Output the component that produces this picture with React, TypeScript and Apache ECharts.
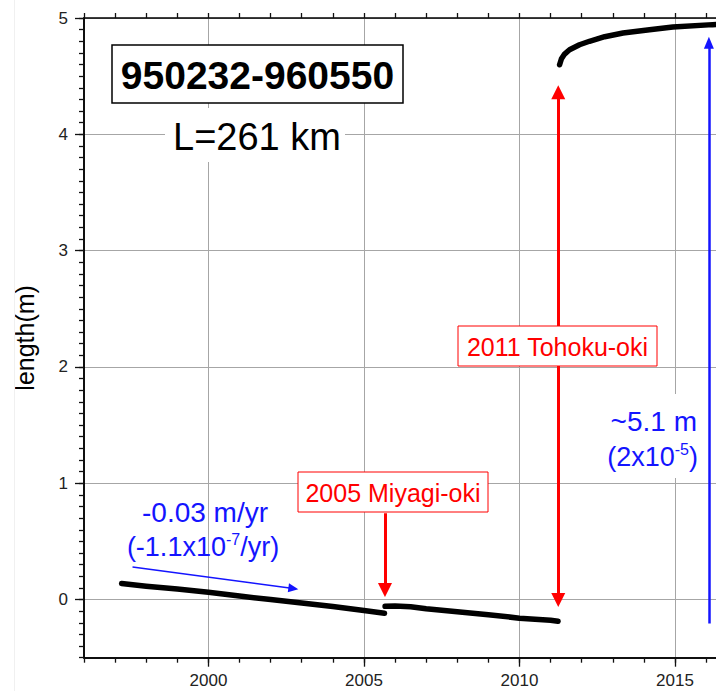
import React, { useEffect, useRef } from "react";
import * as echarts from "echarts";

// Baseline length time series (decimal year, metres)
const beforeMiyagi: [number, number][] = [
  [1997.21, 0.138], [1998.0, 0.115], [1999.0, 0.09], [2000.0, 0.062],
  [2001.0, 0.03], [2002.0, 0.0], [2003.0, -0.03], [2004.0, -0.06],
  [2005.0, -0.095], [2005.66, -0.118],
];
const betweenQuakes: [number, number][] = [
  [2005.68, -0.058], [2006.0, -0.055], [2006.5, -0.062], [2007.0, -0.08],
  [2008.0, -0.105], [2009.0, -0.13], [2010.0, -0.16], [2011.0, -0.178],
  [2011.24, -0.187],
];
const afterTohoku: [number, number][] = [
  [2011.29, 4.598], [2011.35, 4.65], [2011.45, 4.69], [2011.61, 4.727],
  [2011.93, 4.77], [2012.25, 4.8], [2012.74, 4.839], [2013.33, 4.871],
  [2014.18, 4.899], [2014.93, 4.922], [2016.21, 4.943], [2016.6, 4.946],
];

const xMajorTicks = [2000, 2005, 2010, 2015];
const yMajorTicks = [0, 1, 2, 3, 4, 5];

// Arrow end points (decimal year, metres)
const miyagiArrow: [number, number][] = [[2005.676, 0.742], [2005.676, 0.082]];
const tohokuArrow: [number, number][] = [[2011.247, 4.362], [2011.247, -0.004]];
const coseismicArrow: [number, number][] = [[2016.09, -0.206], [2016.09, 4.787]];
const trendArrow: [number, number][] = [[1997.56, 0.28], [2002.73, 0.095]];

const FONT = '"Liberation Sans", Arial, Helvetica, sans-serif';
const RED = "#ff0000";
const BLUE = "#1414ff";

export default function App() {
  const ref = useRef<HTMLDivElement>(null);
  useEffect(() => {
    const chart = echarts.init(ref.current!, null, { renderer: "svg" });
    const lineSeries = (data: [number, number][]) => ({
      type: "line",
      data,
      showSymbol: false,
      symbol: "none",
      silent: true,
      lineStyle: { color: "#000", width: 5.5, cap: "round", join: "round" },
      z: 5,
    });
    const arrowSeries = (lines: any[], color: string, width: number, size: number[]) => ({
      type: "line",
      data: [],
      silent: true,
      markLine: {
        silent: true,
        symbolSize: size,
        label: { show: false },
        lineStyle: { color, width, type: "solid" },
        emphasis: { disabled: true },
        data: lines,
      },
      z: 6,
    });
    const text = (x: number, y: number, style: any) => ({
      type: "text",
      z: 101,
      x,
      y,
      silent: true,
      style: { fontFamily: FONT, verticalAlign: "middle", ...style },
    });
    const rect = (x: number, y: number, width: number, height: number, style: any) => ({
      type: "rect",
      z: 100,
      silent: true,
      shape: { x, y, width, height },
      style,
    });
    const sup = {
      a: { fontSize: 27, fontFamily: FONT, fill: BLUE, lineHeight: 32 },
      s: { fontSize: 16, fontFamily: FONT, fill: BLUE, lineHeight: 16, verticalAlign: "top" },
    };
    chart.setOption({
      animation: false,
      textStyle: { fontFamily: FONT },
      grid: { left: 84, top: 18, width: 653.2, height: 639.7 },
      xAxis: [
        {
          type: "value", min: 1996, max: 2017, interval: 1, position: "bottom",
          axisLine: { show: true, onZero: false, lineStyle: { color: "#000", width: 1.5 } },
          axisTick: { show: true, length: 5, lineStyle: { color: "#111", width: 1.3 } },
          axisLabel: { show: false },
          splitLine: { show: false },
        },
        {
          type: "value", min: 1996, max: 2017, position: "bottom",
          axisLine: { show: true, onZero: false, lineStyle: { color: "#000", width: 1.5 } },
          axisTick: { show: true, length: 9, customValues: xMajorTicks, lineStyle: { color: "#111", width: 1.3 } },
          axisLabel: {
            show: true,
            customValues: xMajorTicks,
            formatter: (v: number) => String(v),
            fontSize: 17,
            color: "#222",
            margin: 14,
            fontFamily: FONT,
          },
          splitLine: { show: true, lineStyle: { color: "#a6a6a6", width: 1 } },
        },
        {
          type: "value", min: 1996, max: 2017, interval: 1, position: "top",
          axisLine: { show: true, onZero: false, lineStyle: { color: "#000", width: 1.5 } },
          axisTick: { show: true, length: 5, lineStyle: { color: "#111", width: 1.3 } },
          axisLabel: { show: false },
          splitLine: { show: false },
        },
      ],
      yAxis: [
        {
          type: "value", min: -0.5, max: 5, interval: 0.1, position: "left",
          axisLine: { show: true, onZero: false, lineStyle: { color: "#000", width: 1.5 } },
          axisTick: { show: true, length: 5, lineStyle: { color: "#111", width: 1.3 } },
          axisLabel: { show: false },
          splitLine: { show: false },
        },
        {
          type: "value", min: -0.5, max: 5, position: "left",
          axisLine: { show: true, onZero: false, lineStyle: { color: "#000", width: 1.5 } },
          axisTick: { show: true, length: 9, customValues: yMajorTicks, lineStyle: { color: "#111", width: 1.3 } },
          axisLabel: {
            show: true,
            customValues: yMajorTicks,
            formatter: (v: number) => String(v),
            fontSize: 17,
            color: "#222",
            margin: 16,
            fontFamily: FONT,
          },
          splitLine: { show: true, lineStyle: { color: "#a6a6a6", width: 1 } },
          name: "length(m)",
          nameLocation: "middle",
          nameGap: 47,
          nameTextStyle: { fontSize: 25, color: "#000", fontFamily: FONT },
        },
      ],
      series: [
        lineSeries(beforeMiyagi),
        lineSeries(betweenQuakes),
        lineSeries(afterTohoku),
        arrowSeries(
          [
            [{ coord: miyagiArrow[0], symbol: "none" }, { coord: miyagiArrow[1], symbol: "triangle" }],
            [{ coord: tohokuArrow[0], symbol: "triangle" }, { coord: tohokuArrow[1], symbol: "triangle" }],
          ],
          RED,
          3,
          [14, 14]
        ),
        arrowSeries(
          [[{ coord: coseismicArrow[0], symbol: "none" }, { coord: coseismicArrow[1], symbol: "triangle" }]],
          BLUE,
          2.5,
          [10, 12]
        ),
        arrowSeries(
          [[{ coord: trendArrow[0], symbol: "none" }, { coord: trendArrow[1], symbol: "triangle" }]],
          BLUE,
          1.5,
          [9, 10]
        ),
      ],
      graphic: [
        {
          type: "line",
          z: 100,
          silent: true,
          shape: { x1: 14.5, y1: 0, x2: 14.5, y2: 691 },
          style: { stroke: "#f0f0f0", lineWidth: 1 },
        },
        rect(112, 45, 291, 58, { fill: "#fff", stroke: "#000", lineWidth: 1.5 }),
        text(257.5, 75, {
          text: "950232-960550",
          fontSize: 39,
          fontWeight: "bold",
          fill: "#000",
          align: "center",
        }),
        rect(165, 108, 180, 54, { fill: "#fff" }),
        text(257, 137, { text: "L=261 km", fontSize: 38, fill: "#000", align: "center" }),
        text(205, 512, { text: "-0.03 m/yr", fontSize: 28, fill: BLUE, align: "center" }),
        text(203, 547, { text: "{a|(-1.1x10}{s|-7}{a|/yr)}", fill: BLUE, align: "center", rich: sup }),
        rect(298, 472, 190, 40, { fill: "#fff", stroke: RED, lineWidth: 1 }),
        text(393, 493, { text: "2005 Miyagi-oki", fontSize: 25, fill: RED, align: "center" }),
        rect(458, 326, 199, 40, { fill: "#fff", stroke: RED, lineWidth: 1 }),
        text(557.5, 347, { text: "2011 Tohoku-oki", fontSize: 25, fill: RED, align: "center" }),
        rect(598, 394, 104, 84, { fill: "#fff" }),
        text(697, 421, { text: "~5.1 m", fontSize: 28, fill: BLUE, align: "right" }),
        text(698, 457, { text: "{a|(2x10}{s|-5}{a|)}", fill: BLUE, align: "right", rich: sup }),
      ],
    });
    return () => chart.dispose();
  }, []);
  return (
    <div
      style={{
        position: "fixed",
        left: 0,
        top: 0,
        width: 716,
        height: 691,
        overflow: "hidden",
        background: "#fff",
      }}
    >
      <div ref={ref} style={{ width: 745, height: 691 }} />
    </div>
  );
}
